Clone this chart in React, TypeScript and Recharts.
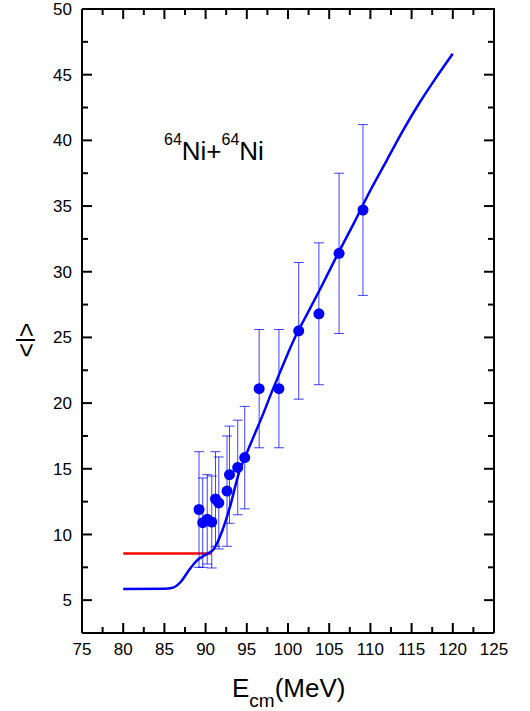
import React from "react"
import {
  ComposedChart,
  Line,
  Scatter,
  ErrorBar,
  XAxis,
  YAxis,
} from "recharts"

// measured points (E_cm in MeV, <l>, symmetric error)
const expE = [89.2, 89.65, 90.2, 90.75, 91.2, 91.6, 92.6, 92.9, 93.9, 94.75, 96.5, 98.9, 101.3, 103.75, 106.2, 109.1]
const expL = [11.9, 10.9, 11.15, 10.95, 12.7, 12.4, 13.3, 14.55, 15.1, 15.85, 21.1, 21.1, 25.5, 26.8, 31.4, 34.7]
const expErr = [4.4, 3.4, 3.4, 3.5, 3.6, 3.5, 4.2, 3.7, 3.6, 3.9, 4.5, 4.5, 5.2, 5.4, 6.1, 6.5]

// model curve (blue)
const modelE = [80, 85, 86, 87, 88, 89, 90, 91, 92, 93, 94, 95, 96, 97, 98, 99, 100, 101, 102, 104, 106, 108, 110, 112, 114, 116, 118, 120]
const modelL = [5.85, 5.87, 5.95, 6.4, 7.3, 8.05, 8.45, 8.9, 10.25, 12.2, 14.6, 16.2, 17.7, 19.2, 20.8, 22.3, 23.8, 25.2, 26.4, 28.8, 31.3, 33.7, 36.2, 38.5, 40.8, 42.9, 44.8, 46.6]

// low-energy limit (red)
const redE = [80, 90.7]
const redL = [8.55, 8.55]

const xTicks = [75, 77.5, 80, 82.5, 85, 87.5, 90, 92.5, 95, 97.5, 100, 102.5, 105, 107.5, 110, 112.5, 115, 117.5, 120, 122.5, 125]
const yTicks = [2.5, 5, 7.5, 10, 12.5, 15, 17.5, 20, 22.5, 25, 27.5, 30, 32.5, 35, 37.5, 40, 42.5, 45, 47.5, 50]

const expData = expE.map((x, i) => ({ x, y: expL[i], err: expErr[i] }))
const modelData = modelE.map((x, i) => ({ x, y: modelL[i] }))
const redData = redE.map((x, i) => ({ x, y: redL[i] }))

// layout
const W = 530
const H = 711
const M_TOP = 9
const M_RIGHT = 36
const Y_AXIS_W = 82
const X_AXIS_H = 78
const LEFT = Y_AXIS_W
const TOP = M_TOP
const RIGHT = W - M_RIGHT
const BOTTOM = H - X_AXIS_H

const FONT = "'Liberation Sans', Arial, sans-serif"
const isMajor = (v: number) => Math.abs(v % 5) < 1e-6

// bottom tick + mirrored top tick, both pointing inward
const XTick = (props: any) => {
  const { x, payload } = props
  const v = payload.value
  const len = isMajor(v) ? 10 : 6
  return (
    <g>
      <line x1={x} x2={x} y1={BOTTOM} y2={BOTTOM - len} stroke="#000" strokeWidth={2} />
      <line x1={x} x2={x} y1={TOP} y2={TOP + len} stroke="#000" strokeWidth={2} />
      {isMajor(v) && (
        <text x={x} y={BOTTOM + 10} dy="0.71em" textAnchor="middle" fontSize={17} fontFamily={FONT} fill="#000">
          {v}
        </text>
      )}
    </g>
  )
}

// left tick + mirrored right tick
const YTick = (props: any) => {
  const { y, payload } = props
  const v = payload.value
  const len = isMajor(v) ? 10 : 6
  return (
    <g>
      <line x1={LEFT} x2={LEFT + len} y1={y} y2={y} stroke="#000" strokeWidth={2} />
      <line x1={RIGHT} x2={RIGHT - len} y1={y} y2={y} stroke="#000" strokeWidth={2} />
      {isMajor(v) && (
        <text x={LEFT - 10} y={y} dy="0.355em" textAnchor="end" fontSize={17} fontFamily={FONT} fill="#000">
          {v}
        </text>
      )}
    </g>
  )
}

const axisLine = { stroke: "#000", strokeWidth: 2 }

export default function App() {
  return (
    <div style={{ position: "absolute", left: 0, top: 0, width: W, height: H, background: "#fff" }}>
      <ComposedChart width={W} height={H} margin={{ top: M_TOP, right: M_RIGHT, bottom: 0, left: 0 }}>
        <XAxis
          xAxisId="b"
          dataKey="x"
          type="number"
          domain={[75, 125]}
          ticks={xTicks}
          interval={0}
          allowDataOverflow
          height={X_AXIS_H}
          tickLine={false}
          axisLine={axisLine}
          tick={(p: any) => <XTick {...p} />}
        />
        <YAxis
          yAxisId="l"
          type="number"
          domain={[2.5, 50]}
          ticks={yTicks}
          interval={0}
          allowDataOverflow
          width={Y_AXIS_W}
          tickLine={false}
          axisLine={axisLine}
          tick={(p: any) => <YTick {...p} />}
        />
        <Line
          xAxisId="b"
          yAxisId="l"
          data={redData}
          dataKey="y"
          type="linear"
          stroke="#ff0000"
          strokeWidth={2.5}
          dot={false}
          isAnimationActive={false}
        />
        <Scatter
          xAxisId="b"
          yAxisId="l"
          data={expData}
          dataKey="y"
          fill="#0000ff"
          isAnimationActive={false}
          shape={(p: any) => <circle cx={p.cx} cy={p.cy} r={5.5} fill="#0000ff" />}
        >
          <ErrorBar
            dataKey="err"
            direction="y"
            width={5}
            stroke="#0000ff"
            strokeWidth={1}
            strokeOpacity={0.75}
            isAnimationActive={false}
          />
        </Scatter>
        <Line
          xAxisId="b"
          yAxisId="l"
          data={modelData}
          dataKey="y"
          type="monotone"
          stroke="#0000ff"
          strokeWidth={2.5}
          dot={false}
          isAnimationActive={false}
        />
      </ComposedChart>
      <svg
        width={W}
        height={H}
        style={{ position: "absolute", left: 0, top: 0, pointerEvents: "none" }}
        fontFamily={FONT}
      >
        <line x1={LEFT} x2={RIGHT + 1} y1={TOP} y2={TOP} stroke="#000" strokeWidth={2} />
        <line x1={RIGHT} x2={RIGHT} y1={TOP} y2={BOTTOM} stroke="#000" strokeWidth={2} />
        <text x={164} y={160} fontSize={26} fill="#000">
          <tspan fontSize={16} dy={-15}>64</tspan>
          <tspan dy={15}>Ni+</tspan>
          <tspan fontSize={16} dy={-15}>64</tspan>
          <tspan dy={15}>Ni</tspan>
        </text>
        <text x={232} y={697} fontSize={26} fill="#000">
          <tspan>E</tspan>
          <tspan fontSize={19} dy={10}>cm</tspan>
          <tspan dy={-10}>(MeV)</tspan>
        </text>
        <text x={35} y={340} fontSize={25} fill="#000" textAnchor="middle" transform="rotate(-90, 35, 340)">
          {"<l>"}
        </text>
      </svg>
    </div>
  )
}
